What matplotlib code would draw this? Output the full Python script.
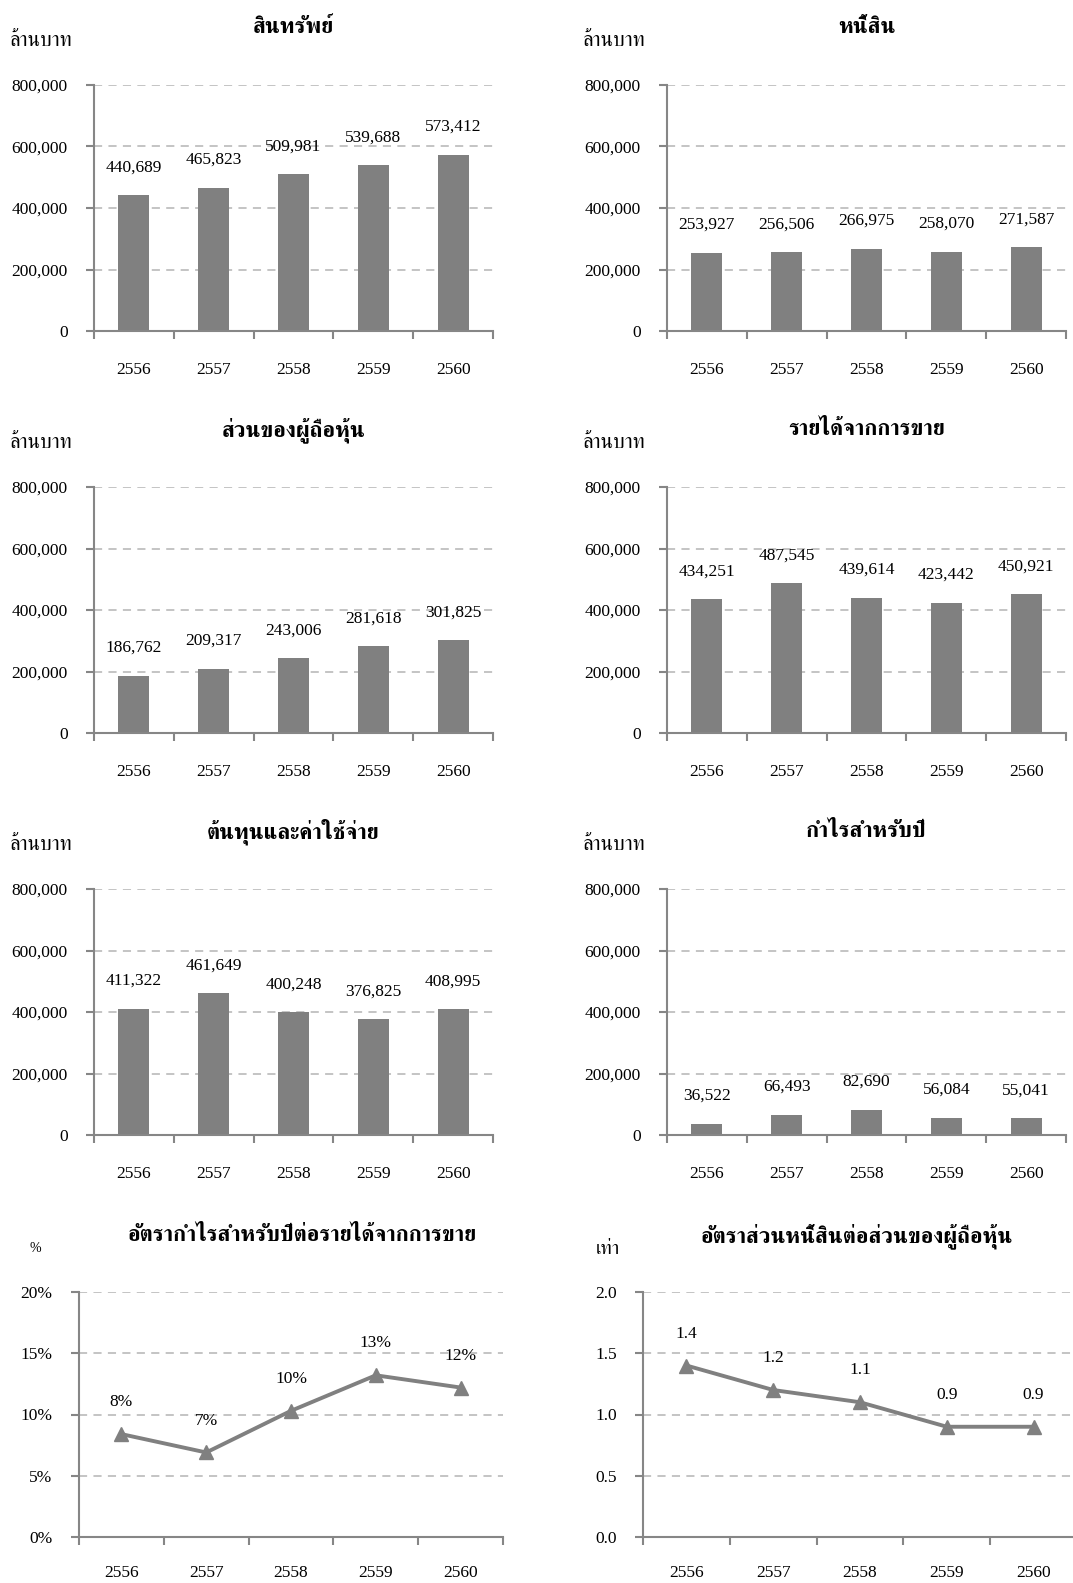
import numpy as np
import matplotlib
matplotlib.use("Agg")
import matplotlib.pyplot as plt
from matplotlib import font_manager as fm
from matplotlib.ft2font import FT2Font
from matplotlib.ticker import FuncFormatter

# data
years = ['2556', '2557', '2558', '2559', '2560']
assets = [440689, 465823, 509981, 539688, 573412]
liabilities = [253927, 256506, 266975, 258070, 271587]
equity = [186762, 209317, 243006, 281618, 301825]
revenue = [434251, 487545, 439614, 423442, 450921]
costs = [411322, 461649, 400248, 376825, 408995]
profit = [36522, 66493, 82690, 56084, 55041]
margin = [8.4, 6.9, 10.3, 13.2, 12.2]
de_ratio = [1.4, 1.2, 1.1, 0.9, 0.9]

bar_titles = ['สินทรัพย์', 'หนี้สิน', 'ส่วนของผู้ถือหุ้น', 'รายได้จากการขาย',
              'ต้นทุนและค่าใช้จ่าย', 'กำไรสำหรับปี']
line_titles = ['อัตรากำไรสำหรับปีต่อรายได้จากการขาย', 'อัตราส่วนหนี้สินต่อส่วนของผู้ถือหุ้น']
unit_baht = 'ล้านบาท'

# find a font that has Thai glyphs
thai_fonts = []
for f in fm.fontManager.ttflist:
    try:
        if 0x0E01 in FT2Font(f.fname).get_charmap() and f.name not in thai_fonts:
            thai_fonts.append(f.name)
    except Exception:
        pass
serif_first = sorted(thai_fonts, key=lambda n: (0 if 'Serif' in n else 1, n))
families = ['Liberation Serif'] + serif_first + ['DejaVu Sans']
plt.rcParams['font.family'] = families

GRAY = '#808080'
AXC = '#868686'
GRID = '#BFBFBF'

W, H = 1073, 1583
fig = plt.figure(figsize=(W / 100, H / 100), dpi=100)


def px_axes(x0, y0, x1, y1):
    return fig.add_axes([x0 / W, 1 - y1 / H, (x1 - x0) / W, (y1 - y0) / H])


def style(ax, ymax, step, xpad):
    x = np.arange(len(years))
    ax.set_xlim(-0.5, len(years) - 0.5)
    ax.set_ylim(0, ymax)
    ax.set_yticks(np.arange(0, ymax + step / 2, step))
    ax.set_xticks(x)
    ax.set_xticklabels(years)
    ax.set_xticks(np.arange(-0.5, len(years)), minor=True)
    for s in ['top', 'right']:
        ax.spines[s].set_visible(False)
    for s in ['left', 'bottom']:
        ax.spines[s].set_color(AXC)
        ax.spines[s].set_linewidth(1.5)
    ax.tick_params(axis='x', which='major', length=0, pad=xpad, labelsize=12.5)
    ax.tick_params(axis='x', which='minor', length=6, width=1.5, color=AXC, direction='out')
    ax.tick_params(axis='y', length=6, width=1.5, color=AXC, pad=13, labelsize=12.5)
    ax.grid(axis='y', color=GRID, linestyle=(0, (4.5, 3.5)), linewidth=1.3)
    ax.set_axisbelow(True)


def bar_panel(x0, y0, vals, title):
    ax = px_axes(x0, y0, x0 + 399, y0 + 246)
    x = np.arange(len(years))
    ax.bar(x, vals, width=0.39, color=GRAY)
    style(ax, 800000, 200000, 22.5)
    ax.yaxis.set_major_formatter(FuncFormatter(lambda v, p: f'{int(v):,}'))
    for xi, v in zip(x, vals):
        ax.annotate(f'{v:,}', (xi, v), xytext=(0, 20), textcoords='offset points',
                    ha='center', va='center', fontsize=12.5)
    ax.text(0.5, 1 + 57 / 246, title, transform=ax.transAxes, ha='center', va='center',
            fontsize=16, fontweight='bold')
    ax.text(-84 / 399, 1 + 43 / 246, unit_baht, transform=ax.transAxes, ha='left',
            va='center', fontsize=15)
    return ax


bar_data = [assets, liabilities, equity, revenue, costs, profit]
tops = [85, 487, 889]
for i, vals in enumerate(bar_data):
    row, col = divmod(i, 2)
    x0 = 94 if col == 0 else 667
    bar_panel(x0, tops[row], vals, bar_titles[i])

# line charts
def line_panel(x0, x1, vals, ymax, step, fmt, lab, title, tx, unit, ux, usize):
    ax = px_axes(x0, 1292, x1, 1537)
    x = np.arange(len(years))
    ax.plot(x, vals, color=GRAY, linewidth=2.8, marker='^', markersize=10,
            markerfacecolor=GRAY, markeredgecolor=GRAY)
    style(ax, ymax, step, 20.5)
    ax.yaxis.set_major_formatter(FuncFormatter(fmt))
    for xi, v in zip(x, vals):
        ax.annotate(lab(v), (xi, v), xytext=(0, 23), textcoords='offset points',
                    ha='center', va='center', fontsize=12.5)
    fig.text(tx / W, 1 - 1236 / H, title, ha='center', va='center',
             fontsize=16, fontweight='bold')
    fig.text(ux / W, 1 - 1249 / H, unit, ha='center', va='center', fontsize=usize)
    return ax


line_panel(79, 503, margin, 20, 5, lambda v, p: f'{int(v)}%',
           lambda v: f'{round(v)}%', line_titles[0], 302, '%', 35, 10)
line_panel(643, 1077, de_ratio, 2.0, 0.5, lambda v, p: f'{v:.1f}',
           lambda v: f'{v:.1f}', line_titles[1], 857, 'เท่า', 608, 14)

fig.savefig('out.png', dpi=100)
